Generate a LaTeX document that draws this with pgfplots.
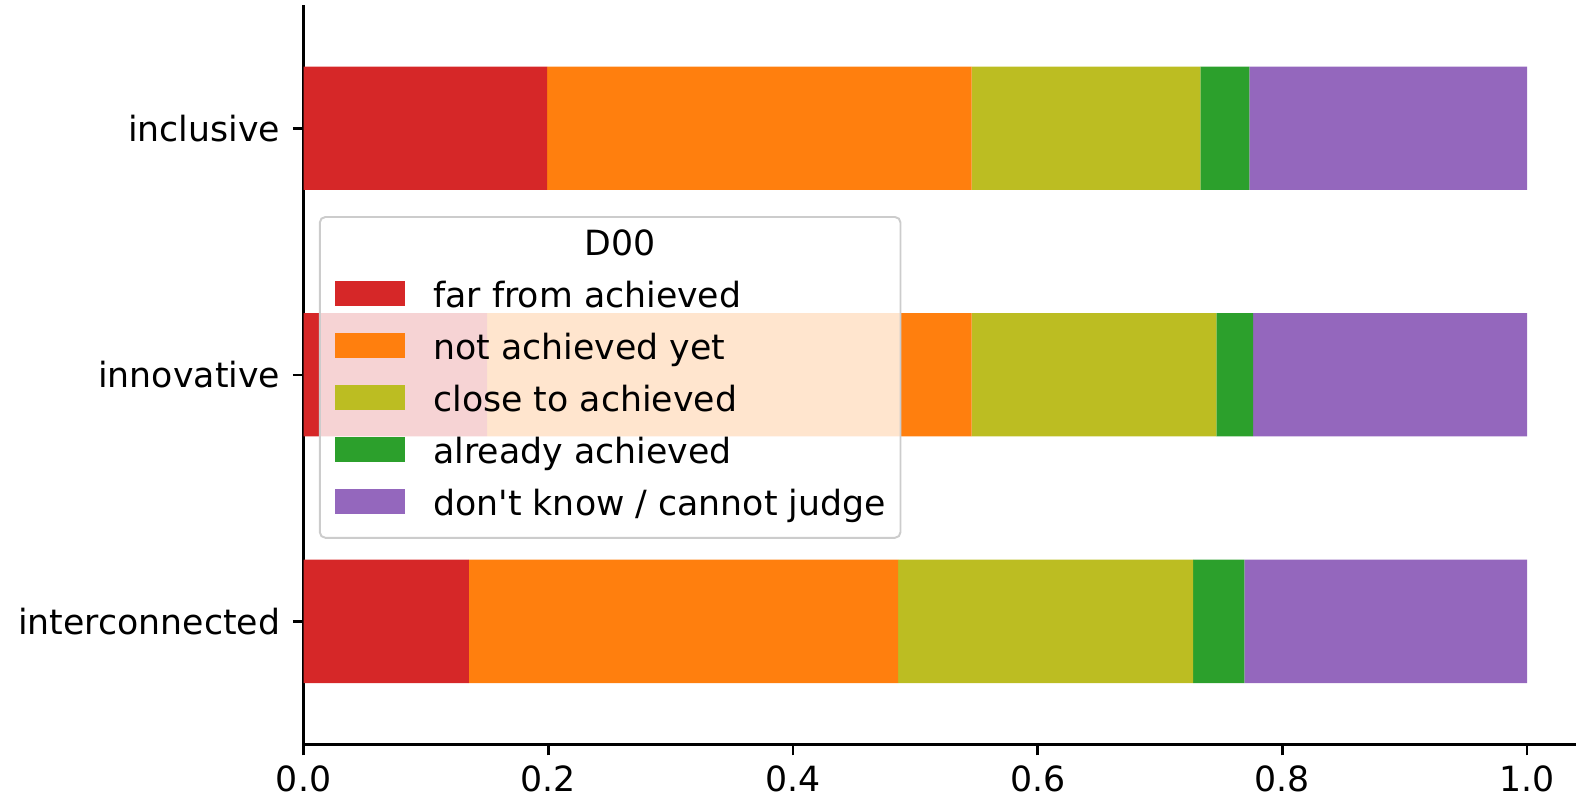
\documentclass[border=0pt]{standalone}
\usepackage{fontspec}
\setmainfont{DejaVu Sans}[Ligatures=TeXOff]
\usepackage{pgfplots}
\pgfplotsset{compat=1.18}
\definecolor{cRed}{HTML}{D62728}
\definecolor{cOrange}{HTML}{FF7F0E}
\definecolor{cOlive}{HTML}{BCBD22}
\definecolor{cGreen}{HTML}{2CA02C}
\definecolor{cPurple}{HTML}{9467BD}
\begin{document}
\begin{tikzpicture}
\begin{axis}[
  scale only axis, width=458.1pt, height=266.3pt,
  xbar stacked, bar width=0.5,
  xmin=0, xmax=1.04, ymin=-0.5, ymax=2.5,
  axis x line*=bottom, axis y line*=left,
  axis line style={line width=0.9pt, -},
  ytick={0,1,2}, yticklabels={interconnected,innovative,inclusive},
  yticklabel style={xshift=-1pt},
  xtick={0,0.2,0.4,0.6,0.8,1.0},
  xticklabel style={/pgf/number format/.cd, fixed, fixed zerofill, precision=1},
  /pgf/number format/assume math mode=true,
  tick align=outside, major tick length=3.9pt,
  tick style={line width=0.9pt, black},
  font=\fontsize{12.5}{15}\selectfont,
  legend cell align=left,
  legend image code/.code={\fill[#1, draw=none, fill opacity=1, sharp corners] (0pt,-2.5pt) rectangle (25.2pt,6.5pt);},
  legend style={at={(0.012,0.7147)}, anchor=north west,
    draw=black!20, line width=0.7pt, fill=white, fill opacity=0.8, text opacity=1,
    rounded corners=2pt, font=\fontsize{12.5}{15}\selectfont,
    inner xsep=5.3pt, inner ysep=5pt, row sep=6.2pt,
    nodes={inner sep=0pt, text height=9pt, text depth=3pt},
    /tikz/every odd column/.append style={column sep=10.4pt}},
]
\addlegendimage{empty legend}
\addlegendentry{\hspace{54.5pt}D00}
\addplot[fill=cRed, draw=none] coordinates {(0.135,0) (0.150,1) (0.199,2)};
\addlegendentry{far from achieved}
\addplot[fill=cOrange, draw=none] coordinates {(0.351,0) (0.396,1) (0.347,2)};
\addlegendentry{not achieved yet}
\addplot[fill=cOlive, draw=none] coordinates {(0.241,0) (0.200,1) (0.187,2)};
\addlegendentry{close to achieved}
\addplot[fill=cGreen, draw=none] coordinates {(0.042,0) (0.030,1) (0.040,2)};
\addlegendentry{already achieved}
\addplot[fill=cPurple, draw=none] coordinates {(0.231,0) (0.224,1) (0.227,2)};
\addlegendentry{don't know / cannot judge}
\end{axis}
\pgfresetboundingbox
\path[use as bounding box] ([xshift=-109.3pt,yshift=-20.6pt]current axis.south west) rectangle ([yshift=1.8pt]current axis.north east);
\end{tikzpicture}
\end{document}
